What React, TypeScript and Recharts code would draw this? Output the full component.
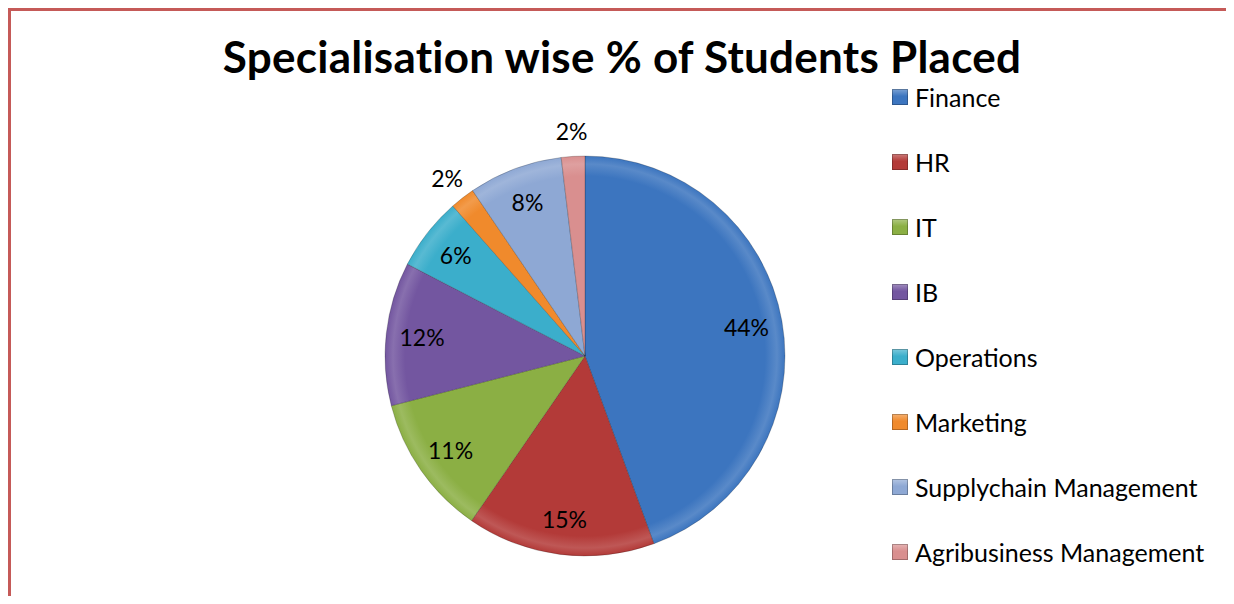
import { PieChart, Pie, Cell } from "recharts";

const specialisations = [
  "Finance",
  "HR",
  "IT",
  "IB",
  "Operations",
  "Marketing",
  "Supplychain Management",
  "Agribusiness Management",
];
const placedShare = [44.4, 15.2, 11.4, 11.6, 5.9, 2.0, 7.6, 1.9];
const sliceColors = [
  "#3C75BF",
  "#B33A38",
  "#8BAF44",
  "#7356A0",
  "#3BAECB",
  "#F08A2C",
  "#8EA8D4",
  "#D98F8F",
];

const data = specialisations.map((name, i) => ({ name, value: placedShare[i] }));

const FONT = "Lato, 'Open Sans', sans-serif";
const CX = 585;
const CY = 356;
const R = 200;

const RADIAN = Math.PI / 180;

const renderLabel = (props: any) => {
  const { cx, cy, midAngle, outerRadius, percent } = props;
  const small = percent < 0.03;
  const r = small ? outerRadius + 25 : outerRadius * 0.82;
  const x = cx + r * Math.cos(-midAngle * RADIAN);
  const y = cy + r * Math.sin(-midAngle * RADIAN);
  return (
    <text
      x={x}
      y={y}
      fill="#000"
      textAnchor="middle"
      dominantBaseline="central"
      fontFamily={FONT}
      fontSize={23}
    >
      {`${Math.round(percent * 100)}%`}
    </text>
  );
};

// legend drawn by hand so it keeps the series order and doesn't shift the pie
const LegendBox = () => (
  <div
    style={{
      position: "absolute",
      left: 892,
      top: 64,
      fontFamily: FONT,
      fontSize: 25,
      color: "#000",
    }}
  >
    {specialisations.map((name, i) => (
      <div key={name} style={{ display: "flex", alignItems: "center", height: 65 }}>
        <span
          style={{
            display: "inline-block",
            width: 16,
            height: 16,
            marginRight: 7,
            background: `linear-gradient(180deg, ${sliceColors[i]}aa 0%, ${sliceColors[i]} 45%, ${sliceColors[i]} 100%)`,
            boxShadow: "inset 0 0 0 1px rgba(0,0,0,0.25)",
          }}
        />
        <span>{name}</span>
      </div>
    ))}
  </div>
);

export default function App() {
  return (
    <div
      style={{
        position: "relative",
        margin: -8,
        width: 1234,
        height: 604,
        overflow: "hidden",
        background: "#fff",
      }}
    >
      <div
        style={{
          position: "absolute",
          left: 7,
          top: 8,
          width: 1227,
          height: 610,
          boxSizing: "border-box",
          borderLeft: "4px solid #C55A58",
          borderTop: "3px solid #C55A58",
          borderRight: "2px solid #C55A58",
        }}
      />
      <div
        style={{
          position: "absolute",
          left: 0,
          top: 28,
          width: 1244,
          textAlign: "center",
          fontFamily: FONT,
          fontWeight: "bold",
          fontSize: 44,
          letterSpacing: 0.25,
          lineHeight: "56px",
          color: "#000",
        }}
      >
        Specialisation wise % of Students Placed
      </div>
      <div style={{ position: "absolute", left: 0, top: 0 }}>
        <PieChart
          width={1234}
          height={604}
          margin={{ top: 0, right: 0, bottom: 0, left: 0 }}
        >
          <defs>
            {sliceColors.map((c, i) => (
              <radialGradient
                key={i}
                id={`bevel${i}`}
                gradientUnits="userSpaceOnUse"
                cx={CX}
                cy={CY}
                r={R}
              >
                <stop offset="0%" stopColor={c} />
                <stop offset="90%" stopColor={c} />
                <stop offset="96%" stopColor={c} stopOpacity={0.85} />
                <stop offset="100%" stopColor={c} stopOpacity={1} />
              </radialGradient>
            ))}
          </defs>
          <Pie
            data={data}
            dataKey="value"
            nameKey="name"
            cx={CX}
            cy={CY}
            outerRadius={R}
            startAngle={90}
            endAngle={-270}
            label={renderLabel}
            labelLine={false}
            stroke="rgba(0,0,0,0.2)"
            strokeWidth={1}
            isAnimationActive={false}
          >
            {data.map((d, i) => (
              <Cell key={d.name} fill={`url(#bevel${i})`} />
            ))}
          </Pie>
        </PieChart>
      </div>
      <LegendBox />
    </div>
  );
}
